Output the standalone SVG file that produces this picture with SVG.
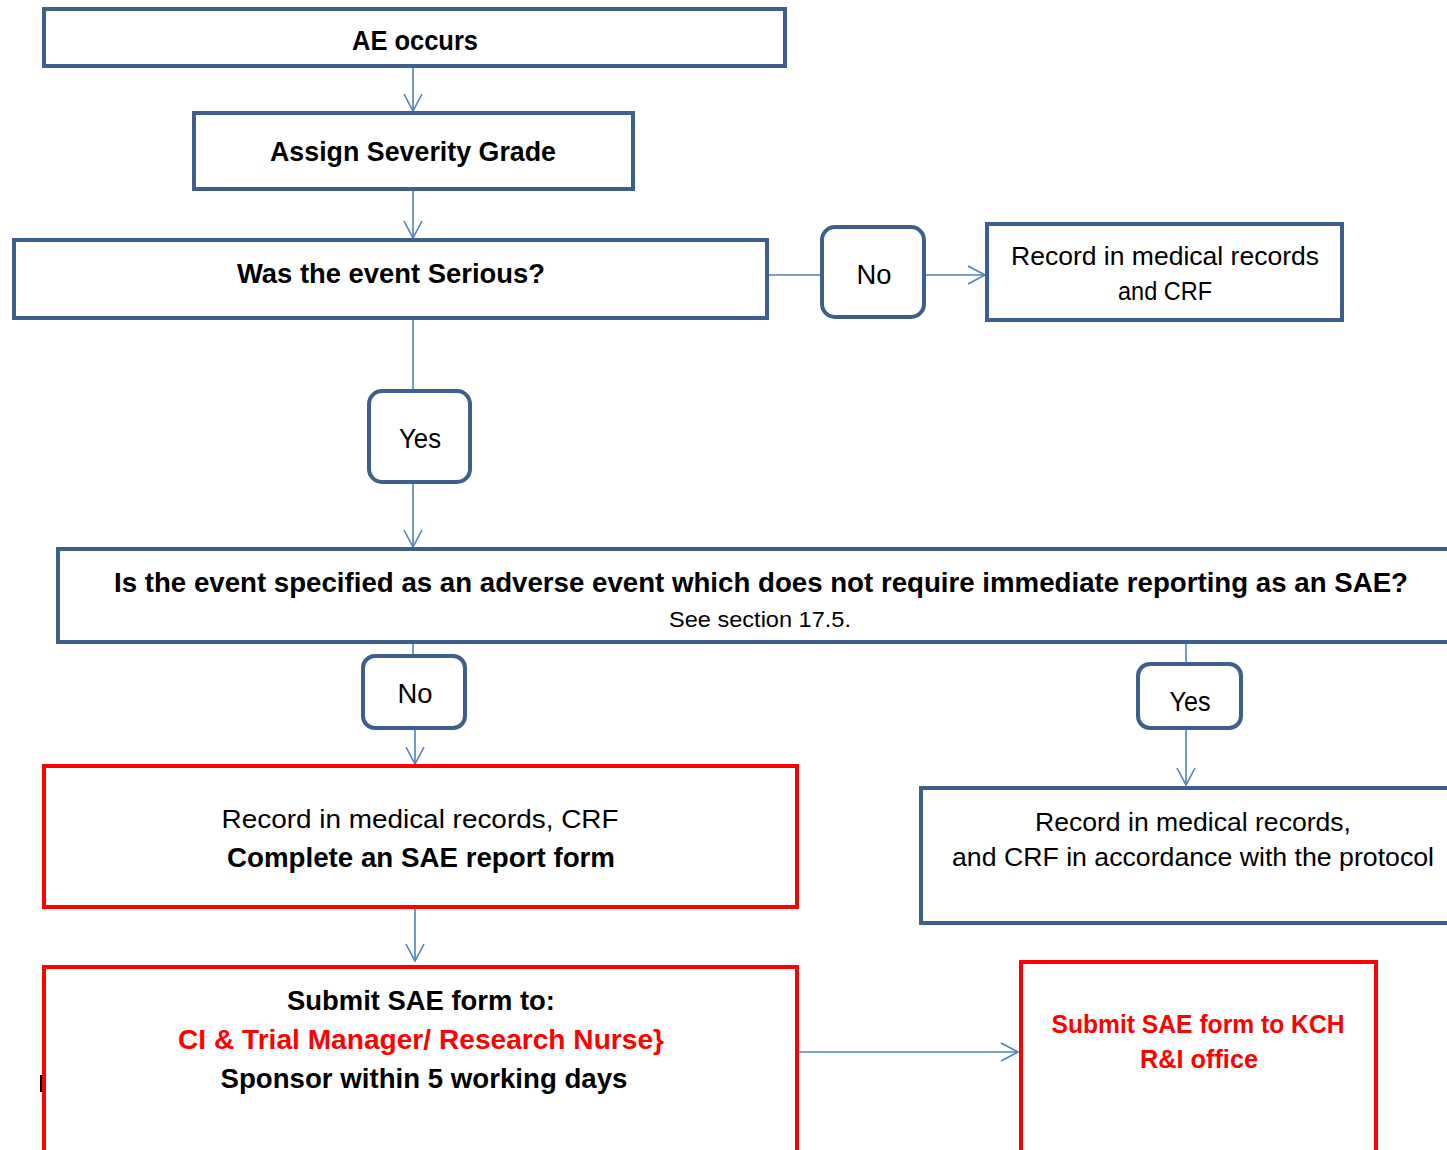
<svg xmlns="http://www.w3.org/2000/svg" width="1447" height="1150" viewBox="0 0 1447 1150">
<style>
.b{fill:#fff;stroke:#3C5F8E;stroke-width:4}
.r{fill:#fff;stroke:#FF0000;stroke-width:4}
.c{fill:none;stroke:#4F81BD;stroke-width:1.6}
text{font-family:"Liberation Sans",Arial,sans-serif;text-anchor:middle;fill:#000}
.bd{font-weight:bold}
.red{fill:#FF0000}
</style>
<defs>
<marker id="ah" viewBox="0 0 20 20" refX="18" refY="10" markerWidth="20" markerHeight="20" markerUnits="userSpaceOnUse" orient="auto">
<path d="M1,1 L18,10 L1,19" fill="none" stroke="#4F81BD" stroke-width="1.6"/>
</marker>
</defs>
<g id="connectors">
<line class="c" x1="413" y1="66" x2="413" y2="111" marker-end="url(#ah)"/>
<line class="c" x1="413" y1="190" x2="413" y2="238" marker-end="url(#ah)"/>
<line class="c" x1="768" y1="275" x2="821" y2="275"/>
<line class="c" x1="925" y1="275" x2="985" y2="275" marker-end="url(#ah)"/>
<line class="c" x1="413" y1="318" x2="413" y2="390"/>
<line class="c" x1="413" y1="483" x2="413" y2="547" marker-end="url(#ah)"/>
<line class="c" x1="413" y1="643" x2="413" y2="655"/>
<line class="c" x1="415" y1="729" x2="415" y2="764" marker-end="url(#ah)"/>
<line class="c" x1="1186" y1="643" x2="1186" y2="663"/>
<line class="c" x1="1186" y1="729" x2="1186" y2="785" marker-end="url(#ah)"/>
<line class="c" x1="415" y1="908" x2="415" y2="961" marker-end="url(#ah)"/>
<polyline class="c" points="796,1061 796,1052 1018,1052" marker-end="url(#ah)"/>
</g>
<g id="ae">
<rect class="b" x="44" y="9" width="741" height="57"/>
<text class="bd" x="415" y="50" font-size="27" textLength="126" lengthAdjust="spacingAndGlyphs">AE occurs</text>
</g>
<g id="assign">
<rect class="b" x="194" y="113" width="439" height="76"/>
<text class="bd" x="413" y="161" font-size="27" textLength="286" lengthAdjust="spacingAndGlyphs">Assign Severity Grade</text>
</g>
<g id="serious">
<rect class="b" x="14" y="240" width="753" height="78"/>
<text class="bd" x="391" y="283" font-size="27" textLength="308" lengthAdjust="spacingAndGlyphs">Was the event Serious?</text>
</g>
<g id="no1">
<rect class="b" x="822" y="227" width="102" height="90" rx="13"/>
<text x="874" y="284" font-size="27" textLength="35" lengthAdjust="spacingAndGlyphs">No</text>
</g>
<g id="record1">
<rect class="b" x="987" y="224" width="355" height="96"/>
<text x="1165" y="265" font-size="25" textLength="308" lengthAdjust="spacingAndGlyphs">Record in medical records</text>
<text x="1165" y="300" font-size="25" textLength="94" lengthAdjust="spacingAndGlyphs">and CRF</text>
</g>
<g id="yes1">
<rect class="b" x="369" y="391" width="101" height="91" rx="13"/>
<text x="420" y="448" font-size="27" textLength="42" lengthAdjust="spacingAndGlyphs">Yes</text>
</g>
<g id="specified">
<rect class="b" x="58" y="549" width="1400" height="93"/>
<text class="bd" x="761" y="592" font-size="27" textLength="1294" lengthAdjust="spacingAndGlyphs">Is the event specified as an adverse event which does not require immediate reporting as an SAE?</text>
<text x="760" y="627" font-size="22" textLength="182" lengthAdjust="spacingAndGlyphs">See section 17.5.</text>
</g>
<g id="no2">
<rect class="b" x="363" y="656" width="102" height="72" rx="12"/>
<text x="415" y="703" font-size="27" textLength="35" lengthAdjust="spacingAndGlyphs">No</text>
</g>
<g id="yes2">
<rect class="b" x="1138" y="664" width="103" height="64" rx="12"/>
<text x="1190" y="711" font-size="27" textLength="41" lengthAdjust="spacingAndGlyphs">Yes</text>
</g>
<g id="complete">
<rect class="r" x="44" y="766" width="753" height="141"/>
<text x="420" y="828" font-size="26" textLength="397" lengthAdjust="spacingAndGlyphs">Record in medical records, CRF</text>
<text class="bd" x="421" y="867" font-size="27" textLength="388" lengthAdjust="spacingAndGlyphs">Complete an SAE report form</text>
</g>
<g id="record2">
<rect class="b" x="921" y="788" width="540" height="135"/>
<text x="1193" y="831" font-size="26" textLength="316" lengthAdjust="spacingAndGlyphs">Record in medical records,</text>
<text x="1193" y="866" font-size="26" textLength="482" lengthAdjust="spacingAndGlyphs">and CRF in accordance with the protocol</text>
</g>
<g id="submit">
<rect class="r" x="44" y="967" width="753" height="200"/>
<text class="bd" x="421" y="1010" font-size="27" textLength="268" lengthAdjust="spacingAndGlyphs">Submit SAE form to:</text>
<text class="bd red" x="421" y="1049" font-size="27" textLength="486" lengthAdjust="spacingAndGlyphs">CI &amp; Trial Manager/ Research Nurse}</text>
<text class="bd" x="424" y="1088" font-size="27" textLength="407" lengthAdjust="spacingAndGlyphs">Sponsor within 5 working days</text>
<line x1="41" y1="1075" x2="41" y2="1092" stroke="#000" stroke-width="2"/>
</g>
<g id="kch">
<rect class="r" x="1021" y="962" width="355" height="205"/>
<text class="bd red" x="1198" y="1033" font-size="26" textLength="293" lengthAdjust="spacingAndGlyphs">Submit SAE form to KCH</text>
<text class="bd red" x="1199" y="1068" font-size="26" textLength="118" lengthAdjust="spacingAndGlyphs">R&amp;I office</text>
</g>
</svg>
